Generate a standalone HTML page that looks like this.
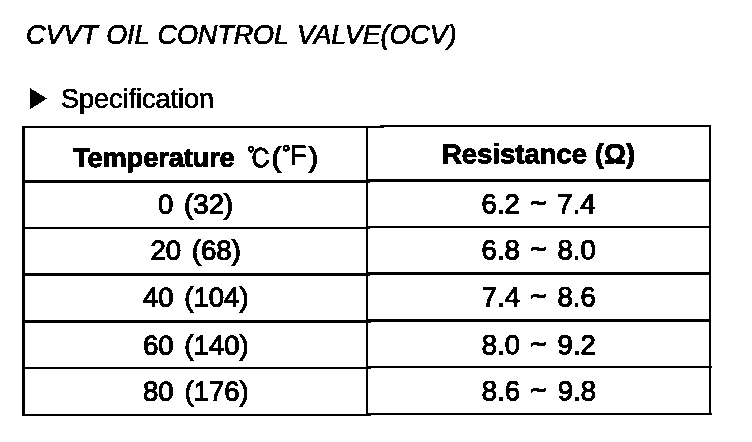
<!DOCTYPE html>
<html lang="en">
<head>
<meta charset="utf-8">
<title>CVVT OIL CONTROL VALVE(OCV) - Specification</title>
<style>
  html, body { margin: 0; padding: 0; background: #fff; }
  body { width: 752px; height: 442px; position: relative; overflow: hidden;
         font-family: "Liberation Sans", Arial, sans-serif; color: #000; }
  .page { position: absolute; left: 0; top: 0; width: 752px; height: 442px; background: #fff; filter: url(#bw); }
  h1.title { position: absolute; left: 26px; top: 17px; margin: 0;
         font-size: 27px; font-weight: 400; font-style: italic; line-height: 36px;
         white-space: nowrap; letter-spacing: -0.1px; word-spacing: 1.2px; -webkit-text-stroke: 0.7px #000; }
  .spec { position: absolute; left: 30px; top: 81px; margin: 0; height: 36px;
         font-size: 27px; font-weight: 400; line-height: 36px; white-space: nowrap;
         -webkit-text-stroke: 0.6px #000; }
  .spec .tri { position: absolute; left: 0; top: 7px; width: 17px; height: 22px; }
  .spec .lbl { position: absolute; left: 31px; top: 0; }
  table.specs { position: absolute; left: 22px; top: 126px;
         border-collapse: separate; border-spacing: 0; table-layout: fixed;
         border-top: 2px solid #000; border-left: 3px solid #000;
         transform: rotate(-0.085deg); transform-origin: 0 0; }
  table.specs td, table.specs th { width: 341px; padding: 0; border-right: 2px solid #000;
         text-align: center; vertical-align: top; white-space: nowrap; }
  table.specs th { height: 52px; border-bottom: 3px solid #000; font-weight: 700; font-size: 27.3px; }
  table.specs th .cell { line-height: 52px; height: 52px; }
  .r5 .cell { height: 45px; top: 1px; }
  .r4 .cell { top: 1px; }
  th.hl .cell { top: 4px; letter-spacing: -0.15px; }
  th.hl .cell .degc, th.hl .cell .pr, th.hl .cell .fa { letter-spacing: 0; }
  th.hr .cell { top: 1px; font-size: 27.5px; }
  table.specs td { font-size: 27.6px; word-spacing: 3px; -webkit-text-stroke: 1.1px #000; }
  .degc { display: inline-block; font-family: "Liberation Sans", "IPAGothic", sans-serif;
         font-weight: 400; font-size: 26.5px; margin-left: 12px; -webkit-text-stroke: 0.9px #000;
         transform: translateY(1.5px) scaleX(0.92); transform-origin: 0 0; margin-right: -1.5px; }
  .o2 { display: inline-block; position: relative; top: -6.5px; font-weight: 400; font-size: 22px;
         -webkit-text-stroke: 1.2px #000; margin: 0 0.5px 0 1px; }
  .pr { font-weight: 400; -webkit-text-stroke: 1.5px #000; }
  .pr1 { margin-left: 0; }
  .pr2 { margin-left: 1.5px; }
  .fa { font-weight: 400; position: relative; top: -2px; left: -1px; -webkit-text-stroke: 0.6px #000; }
  table.specs th { -webkit-text-stroke: 0.9px #000; }
  .r1 td { height: 44px; border-bottom: 2px solid #000; }
  .r2 td { height: 44px; border-bottom: 3px solid #000; }
  .r3 td { height: 44px; border-bottom: 3px solid #000; }
  .r4 td { height: 44px; border-bottom: 2px solid #000; }
  .r5 td { height: 45px; border-bottom: 2px solid #000; }
  .tl { display: inline-block; transform: translateY(-1px) scale(0.92, 0.75); -webkit-text-stroke: 2.4px #000; }
  .cell { position: relative; display: block; line-height: 44px; height: 44px; }
</style>
</head>
<body>
  <svg width="0" height="0" style="position:absolute" aria-hidden="true">
    <filter id="bw" color-interpolation-filters="sRGB">
      <feComponentTransfer>
        <feFuncR type="discrete" tableValues="0 1"/>
        <feFuncG type="discrete" tableValues="0 1"/>
        <feFuncB type="discrete" tableValues="0 1"/>
      </feComponentTransfer>
    </filter>
  </svg>
  <div class="page">
  <h1 class="title">CVVT OIL CONTROL VALVE(OCV)</h1>
  <div class="spec"><svg class="tri" viewBox="0 0 17 22" aria-hidden="true"><polygon points="0,0 17,10.5 0,21.3" fill="#000"/></svg><span class="lbl">Specification</span></div>
  <table class="specs">
    <thead>
      <tr>
        <th class="hl"><span class="cell">Temperature<span class="degc">℃</span><span class="pr pr1">(</span><span class="o2">°</span><span class="fa">F</span><span class="pr pr2">)</span></span></th>
        <th class="hr"><span class="cell">Resistance (Ω)</span></th>
      </tr>
    </thead>
    <tbody>
      <tr class="r1"><td><span class="cell">0 (32)</span></td><td><span class="cell">6.2 <span class="tl">~</span> 7.4</span></td></tr>
      <tr class="r2"><td><span class="cell">20 (68)</span></td><td><span class="cell">6.8 <span class="tl">~</span> 8.0</span></td></tr>
      <tr class="r3"><td><span class="cell">40 (104)</span></td><td><span class="cell">7.4 <span class="tl">~</span> 8.6</span></td></tr>
      <tr class="r4"><td><span class="cell">60 (140)</span></td><td><span class="cell">8.0 <span class="tl">~</span> 9.2</span></td></tr>
      <tr class="r5"><td><span class="cell">80 (176)</span></td><td><span class="cell">8.6 <span class="tl">~</span> 9.8</span></td></tr>
    </tbody>
  </table>
  </div>
</body>
</html>
